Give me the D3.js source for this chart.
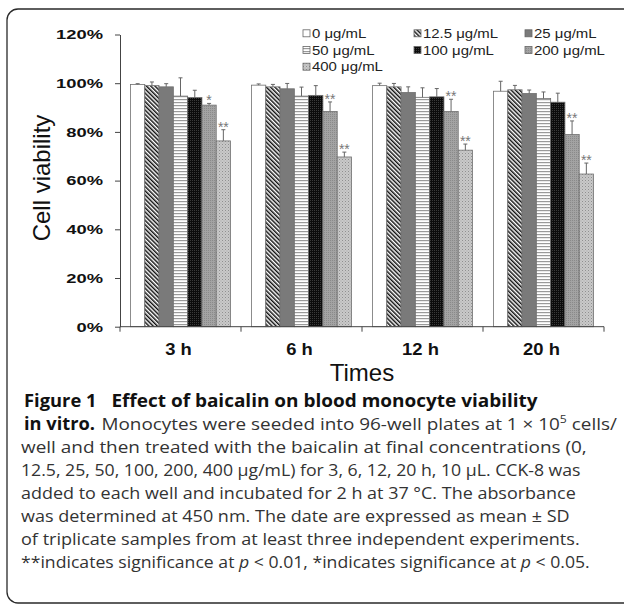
<!DOCTYPE html>
<html><head><meta charset="utf-8">
<script src="https://cdn.jsdelivr.net/npm/d3@7"></script>
<style>
html,body{margin:0;padding:0;background:#fff;}
svg{display:block;}
</style></head>
<body>
<svg id="chart" width="624" height="607"></svg>
<script>
// ---------- data ----------
const categories = ["3 h", "6 h", "12 h", "20 h"];
const seriesNames = ["0 μg/mL", "12.5 μg/mL", "25 μg/mL", "50 μg/mL", "100 μg/mL", "200 μg/mL", "400 μg/mL"];
const v0   = [99.5, 99.2, 99.0, 96.7];
const v125 = [99.0, 98.5, 98.5, 97.3];
const v25  = [98.5, 97.7, 96.2, 95.8];
const v50  = [94.7, 94.7, 94.2, 93.7];
const v100 = [94.1, 95.0, 94.4, 92.2];
const v200 = [91.0, 88.4, 88.4, 78.9];
const v400 = [76.3, 69.7, 72.5, 62.7];
const e0   = [0.3, 0.5, 1.0, 4.1];
const e125 = [1.5, 1.0, 1.4, 1.8];
const e25  = [1.3, 2.2, 2.3, 1.4];
const e50  = [7.5, 3.7, 3.9, 2.7];
const e100 = [3.0, 4.0, 3.4, 3.7];
const e200 = [0.7, 3.9, 5.0, 5.6];
const e400 = [4.6, 2.0, 2.5, 4.5];
const s200 = ["*", "**", "**", "**"];
const s400 = ["**", "**", "**", "**"];
const yTicks = [0, 20, 40, 60, 80, 100, 120];
const yTickLabels = ["0%", "20%", "40%", "60%", "80%", "100%", "120%"];
const yTitle = "Cell viability";
const xTitle = "Times";

const values = [v0, v125, v25, v50, v100, v200, v400];
const errors = [e0, e125, e25, e50, e100, e200, e400];
const sigs = [null, null, null, null, null, s200, s400];

// ---------- setup ----------
const svg = d3.select("#chart");
const defs = svg.append("defs");
const patIds = ["p0", "p125", "p25", "p50", "p100", "p200", "p400"];

function pat(id, w, h, bg, draw, tr) {
  const p = defs.append("pattern").attr("id", id).attr("patternUnits", "userSpaceOnUse")
    .attr("width", w).attr("height", h);
  if (tr) p.attr("patternTransform", tr);
  p.append("rect").attr("width", w).attr("height", h).attr("fill", bg);
  draw(p);
}
pat("p0", 4, 4, "#ffffff", p => {});
pat("p125", 3, 3, "#ffffff", p => p.append("rect").attr("x", 0).attr("y", 0).attr("width", 1.5).attr("height", 3).attr("fill", "#111"), "rotate(-45)");
pat("p25", 4, 4, "#7a7a7a", p => {});
pat("p50", 3, 3, "#ffffff", p => p.append("rect").attr("x", 0).attr("y", 0).attr("width", 3).attr("height", 1.2).attr("fill", "#9a9a9a"));
pat("p100", 2, 2, "#0c0c0c", p => p.append("rect").attr("x", 0).attr("y", 0).attr("width", 1).attr("height", 1).attr("fill", "#3a3a3a"));
pat("p200", 2, 2, "#a3a3a3", p => p.append("rect").attr("x", 0).attr("y", 0).attr("width", 1).attr("height", 1).attr("fill", "#8a8a8a"));
pat("p400", 3, 3, "#c9c9c9", p => {
  p.append("rect").attr("x", 0).attr("y", 0).attr("width", 1).attr("height", 1).attr("fill", "#8f8f8f");
  p.append("rect").attr("x", 1.5).attr("y", 1.5).attr("width", 1).attr("height", 1).attr("fill", "#a5a5a5");
});

// frame
svg.append("rect").attr("x", 7).attr("y", 9).attr("width", 660).attr("height", 594)
  .attr("rx", 11).attr("fill", "none").attr("stroke", "#2a2a2a").attr("stroke-width", 1.3);

// scales
const y = d3.scaleLinear().domain([0, 120]).range([326.7, 34.5]);
const x0 = d3.scaleBand().domain(categories).range([120, 604]).paddingInner(21 / 121).paddingOuter(10.5 / 121);
const x1 = d3.scaleBand().domain(seriesNames).range([0, x0.bandwidth()]).padding(0);

const plot = svg.append("g");

// bars
seriesNames.forEach((s, si) => {
  const g = plot.append("g");
  g.selectAll("rect").data(categories).join("rect")
    .attr("x", c => x0(c) + x1(s))
    .attr("y", (c, ci) => y(values[si][ci]))
    .attr("width", x1.bandwidth())
    .attr("height", (c, ci) => y(0) - y(values[si][ci]))
    .attr("fill", `url(#${patIds[si]})`)
    .attr("stroke", "#707070").attr("stroke-width", 0.8);
  // error bars
  const eg = plot.append("g").attr("stroke", "#666").attr("stroke-width", 1);
  categories.forEach((c, ci) => {
    const cx = x0(c) + x1(s) + x1.bandwidth() / 2;
    const top = y(values[si][ci] + errors[si][ci]);
    eg.append("line").attr("x1", cx).attr("x2", cx).attr("y1", y(values[si][ci])).attr("y2", top);
    eg.append("line").attr("x1", cx - 2).attr("x2", cx + 2).attr("y1", top).attr("y2", top);
    if (sigs[si]) {
      plot.append("text").attr("x", cx).attr("y", top + 2)
        .attr("text-anchor", "middle").attr("font-family", "Liberation Sans, Arial, sans-serif")
        .attr("font-size", 14).attr("fill", "#777").text(sigs[si][ci]);
    }
  });
});

// y axis
const yAxis = svg.append("g").attr("transform", "translate(120,0)")
  .call(d3.axisLeft(y).tickValues(yTicks).tickSize(5).tickSizeOuter(0).tickFormat((d, i) => yTickLabels[i]));
yAxis.select(".domain").attr("stroke", "#444");
yAxis.selectAll(".tick line").attr("stroke", "#444");
yAxis.selectAll(".tick text")
  .attr("font-family", "Liberation Sans, Arial, sans-serif").attr("font-weight", "bold")
  .attr("font-size", 13.5).attr("fill", "#111")
  .attr("x", -17 / 1.36).attr("transform", "scale(1.36,1)");

// x axis
const xg = svg.append("g");
xg.append("line").attr("x1", 120).attr("x2", 604).attr("y1", y(0)).attr("y2", y(0)).attr("stroke", "#444");
const bounds = [x0.range()[0]].concat(categories.map(c => x0(c) + x0.bandwidth() / 2 + x0.step() / 2));
xg.selectAll("line.t").data(bounds).join("line").attr("class", "t")
  .attr("x1", d => d).attr("x2", d => d).attr("y1", y(0)).attr("y2", y(0) + 5).attr("stroke", "#444");
xg.selectAll("text").data(categories).join("text")
  .attr("transform", c => `translate(${x0(c) + x0.bandwidth() / 2 - 2},355) scale(1.15,1)`)
  .attr("text-anchor", "middle").attr("font-family", "Liberation Sans, Arial, sans-serif")
  .attr("font-weight", "bold").attr("font-size", 16).attr("fill", "#111").text(c => c);

// titles
svg.append("text").attr("x", 362).attr("y", 380.5).attr("text-anchor", "middle")
  .attr("font-family", "Liberation Sans, Arial, sans-serif").attr("font-size", 24).attr("fill", "#111").text(xTitle);
svg.append("text").attr("transform", "translate(50,178) rotate(-90)").attr("text-anchor", "middle")
  .attr("font-family", "Liberation Sans, Arial, sans-serif").attr("font-size", 24).attr("fill", "#111").text(yTitle);

// legend
const legCols = [303, 414, 525];
const legRows = [33.3, 50, 66.7];
const lg = svg.append("g");
seriesNames.forEach((s, i) => {
  const cx = legCols[i % 3], cy = legRows[Math.floor(i / 3)];
  lg.append("rect").attr("x", cx).attr("y", cy - 3.5).attr("width", 7).attr("height", 7)
    .attr("fill", `url(#${patIds[i]})`).attr("stroke", "#666").attr("stroke-width", 0.8);
  lg.append("text").attr("transform", `translate(${cx + 9},${cy + 4.6}) scale(1.15,1)`)
    .attr("font-family", "Liberation Sans, Arial, sans-serif").attr("font-size", 13)
    .attr("fill", "#222").text(s);
});

// caption
const capFont = "Open Sans, Noto Sans, sans-serif";
function capLine(x, yb, xEnd, parts) {
  const t = svg.append("text").attr("x", 0).attr("y", 0).attr("font-family", capFont).attr("font-size", 17);
  parts.forEach(p => {
    const ts = t.append("tspan").text(p.t).attr("fill", p.b ? "#111" : "#333");
    if (p.b) ts.attr("font-weight", "bold");
    if (p.i) ts.attr("font-style", "italic");
    if (p.sup) ts.attr("font-size", 11).attr("dy", -7);
    if (p.unsup) ts.attr("dy", 7);
  });
  const w = t.node().getComputedTextLength();
  t.attr("transform", `translate(${x},${yb}) scale(${(xEnd - x) / w},1)`);
}
const lh = 23;
capLine(24, 407, 96.5, [{t: "Figure 1", b: true}]);
capLine(111.5, 407, 538, [{t: "Effect of baicalin on blood monocyte viability", b: true}]);
capLine(24, 407 + lh, 95, [{t: "in vitro.", b: true}]);
capLine(101.5, 407 + lh, 617, [{t: "Monocytes were seeded into 96-well plates at 1 × 10"}, {t: "5", sup: true}, {t: " cells/", unsup: true}]);
capLine(21, 407 + 2 * lh, 587, [{t: "well and then treated with the baicalin at final concentrations (0,"}]);
capLine(21, 407 + 3 * lh, 581, [{t: "12.5, 25, 50, 100, 200, 400 μg/mL) for 3, 6, 12, 20 h, 10 μL. CCK-8 was"}]);
capLine(21, 407 + 4 * lh, 576, [{t: "added to each well and incubated for 2 h at 37 °C. The absorbance"}]);
capLine(21, 407 + 5 * lh, 570, [{t: "was determined at 450 nm. The date are expressed as mean ± SD"}]);
capLine(21, 407 + 6 * lh, 580, [{t: "of triplicate samples from at least three independent experiments."}]);
capLine(21, 407 + 7 * lh, 590, [{t: "**indicates significance at "}, {t: "p", i: true}, {t: " < 0.01, *indicates significance at "}, {t: "p", i: true}, {t: " < 0.05."}]);
</script>
</body></html>
